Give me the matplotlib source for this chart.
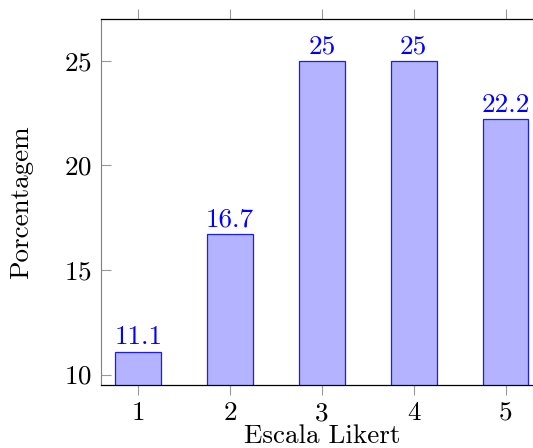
import matplotlib
matplotlib.use("Agg")
import matplotlib.pyplot as plt

categorias = [1, 2, 3, 4, 5]
porcentagem = [11.1, 16.7, 25, 25, 22.2]
rotulos = ["11.1", "16.7", "25", "25", "22.2"]
yticks = [10, 15, 20, 25]

plt.rcParams['font.family'] = 'cmr10'
plt.rcParams['axes.formatter.use_mathtext'] = True
plt.rcParams['mathtext.fontset'] = 'cm'

fig = plt.figure(figsize=(5.33, 4.48), dpi=100)
ax = fig.add_axes([0.1904, 0.1406, 0.827, 0.817])

ax.bar(categorias, porcentagem, width=0.5, bottom=0,
       color=(0.7, 0.7, 1.0), edgecolor=(0.1, 0.1, 1), linewidth=0.9)

for x, v, t in zip(categorias, porcentagem, rotulos):
  ax.annotate(t, (x, v), xytext=(0, 2), textcoords='offset points',
              ha='center', va='bottom', color=(0, 0, 1), fontsize=19.5)

ax.set_xlim(0.6, 5.4)
ax.set_ylim(9.5, 27)
ax.set_xticks(categorias)
ax.set_xticklabels([str(c) for c in categorias])
ax.set_yticks(yticks)

ax.tick_params(axis='x', direction='out', length=7, width=0.8, color='#999999',
               top=True, labeltop=False, labelsize=19.5, pad=5)
ax.tick_params(axis='y', direction='in', length=7, width=0.8, color='#999999',
               right=False, labelsize=19.5, pad=7)

ax.spines['left'].set_color('#808080')
ax.spines['right'].set_visible(False)
for s in ['top', 'bottom']:
  ax.spines[s].set_color('black')
  ax.spines[s].set_linewidth(0.9)

ax.set_xlabel('Escala Likert', fontsize=19.5, labelpad=-1)
ax.set_ylabel('Porcentagem', fontsize=19.5, labelpad=22)

fig.savefig('out.png', dpi=100)
